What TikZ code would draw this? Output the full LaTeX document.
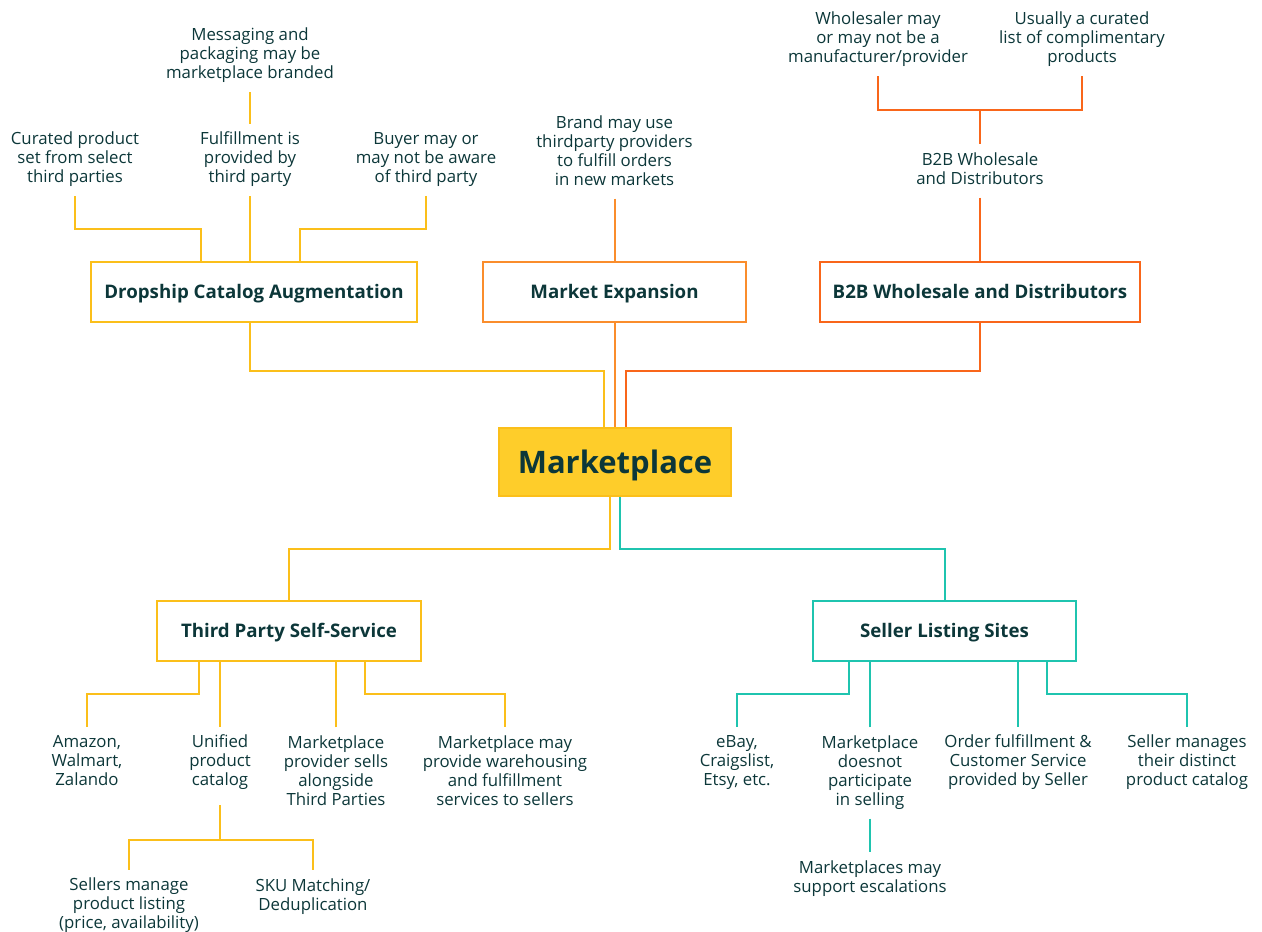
\documentclass[tikz,border=0pt]{standalone}
\usepackage{fontspec}
\setsansfont{Open Sans}
\usetikzlibrary{positioning}
\definecolor{colour_ink}{HTML}{0C3739}
\definecolor{colour_amber}{HTML}{FBBF1A}
\definecolor{colour_sun}{HTML}{FECD2A}
\definecolor{colour_orange}{HTML}{FA8D2C}
\definecolor{colour_rust}{HTML}{F9661A}
\definecolor{colour_teal}{HTML}{1FC4AF}

\begin{document}
\begin{tikzpicture}[
    x=1pt, y=-1pt,
    font=\sffamily,
    note/.style={align=center, text=colour_ink, inner sep=0pt, outer ysep=8pt,
                 font=\sffamily\fontsize{16.8}{19}\selectfont,
                 execute at begin node=\strut, execute at end node=\strut},
    box/.style={rectangle, line width=2pt, fill=white, minimum height=60pt,
                text=colour_ink, text height=13.3pt, text depth=0pt,
                font=\sffamily\bfseries\fontsize{18.7}{22}\selectfont},
    hub/.style={rectangle, draw=colour_amber, fill=colour_sun, line width=1.5pt,
                minimum width=232pt, minimum height=68pt, text=colour_ink,
                text height=22pt, text depth=0pt,
                font=\sffamily\bfseries\fontsize{31}{36}\selectfont},
    amberline/.style={line width=2pt, draw=colour_amber},
    orangeline/.style={line width=2pt, draw=colour_orange},
    rustline/.style={line width=2pt, draw=colour_rust},
    tealline/.style={line width=2pt, draw=colour_teal}
]
\useasboundingbox (0,0) rectangle (1262,932);

% Notes above the categories
\node[note] (packaging) at (250,56) {Messaging and\\packaging may be\\marketplace branded};
\node[note] (curated) at (75,160) {Curated product\\set from select\\third parties};
\node[note] (fulfil) at (250,160) {Fulfillment is\\provided by\\third party};
\node[note] (aware) at (426,160) {Buyer may or\\may not be aware\\of third party};
\node[note] (brand) at (614.5,153) {Brand may use\\thirdparty providers\\to fulfill orders\\in new markets};
\node[note] (wholesaler) at (878,40) {Wholesaler may\\or may not be a\\manufacturer/provider};
\node[note] (complement) at (1082,40) {Usually a curated\\list of complimentary\\products};
\node[note] (b2bnote) at (980,171) {B2B Wholesale\\and Distributors};

% Category boxes
\node[box, draw=colour_amber, minimum width=326pt] (dropship) at (254,292) {Dropship Catalog Augmentation};
\node[box, draw=colour_orange, minimum width=263pt] (expansion) at (614.5,292) {Market Expansion};
\node[box, draw=colour_rust, minimum width=320pt] (wholesale) at (980,292) {B2B Wholesale and Distributors};
\node[hub] (market) at (615,462) {Marketplace};
\node[box, draw=colour_amber, minimum width=264pt] (selfserve) at (289,631) {Third Party Self-Service};
\node[box, draw=colour_teal, minimum width=263pt] (listing) at (944.5,631) {Seller Listing Sites};

% Notes below the categories
\node[note] (retailers) at (87,763) {Amazon,\\Walmart,\\Zalando};
\node[note] (catalog) at (220,763) {Unified\\product\\catalog};
\node[note] (alongside) at (336,773) {Marketplace\\provider sells\\alongside\\Third Parties};
\node[note] (warehousing) at (505,773) {Marketplace may\\provide warehousing\\and fulfillment\\services to sellers};
\node[note] (pricing) at (129,906) {Sellers manage\\product listing\\(price, availability)};
\node[note] (dedup) at (313,897) {SKU Matching/\\Deduplication};
\node[note] (classifieds) at (737,763) {eBay,\\Craigslist,\\Etsy, etc.};
\node[note] (noselling) at (870,773) {Marketplace\\doesnot\\participate\\in selling};
\node[note] (sellerservice) at (1018,763) {Order fulfillment \&\\Customer Service\\provided by Seller};
\node[note] (ownlisting) at (1187,763) {Seller manages\\their distinct\\product catalog};
\node[note] (escalations) at (870,879) {Marketplaces may\\support escalations};

% Dropship branch
\draw[amberline] (packaging.south) -- (fulfil.north);
\draw[amberline] (fulfil.south) -- (fulfil.south |- dropship.north);
\draw[amberline] (curated.south) |- ([xshift=-53pt, yshift=32pt]dropship.north) -- ([xshift=-53pt]dropship.north);
\draw[amberline] (aware.south) |- ([xshift=46pt, yshift=32pt]dropship.north) -- ([xshift=46pt]dropship.north);
\draw[amberline] (dropship.south -| fulfil.south) |- ([xshift=-11pt, yshift=56pt]market.north) -- ([xshift=-11pt]market.north);

% Market expansion branch
\draw[orangeline] (brand.south) -- (expansion.north);
\draw[orangeline] (expansion.south) -- (expansion.south |- market.north);

% B2B branch
\draw[rustline] (wholesaler.south) |- ([yshift=34pt]b2bnote.north) -| (complement.south);
\draw[rustline] ([yshift=34pt]b2bnote.north) -- (b2bnote.north);
\draw[rustline] (b2bnote.south) -- (wholesale.north);
\draw[rustline] (wholesale.south) |- ([xshift=11pt, yshift=56pt]market.north) -- ([xshift=11pt]market.north);

% Down to the two lower categories
\draw[amberline] ([xshift=-5pt]market.south) |- ([yshift=51pt]selfserve.north) -- (selfserve.north);
\draw[tealline] ([xshift=5pt]market.south) |- ([yshift=51pt]listing.north) -- (listing.north);

% Third party self-service branch
\draw[amberline] ([xshift=-90pt]selfserve.south) -- ++(0,32) -| (retailers.north);
\draw[amberline] (catalog.north) -- (catalog.north |- selfserve.south);
\draw[amberline] (alongside.north) -- (alongside.north |- selfserve.south);
\draw[amberline] ([xshift=76pt]selfserve.south) -- ++(0,32) -| (warehousing.north);
\draw[amberline] (pricing.north) |- ([yshift=30pt]dedup.north) coordinate (catjoin) -- (dedup.north);
\draw[amberline] ([yshift=-6pt]catalog.south) -- (catalog.south |- catjoin);

% Seller listing branch
\draw[tealline] ([xshift=-95.5pt]listing.south) -- ++(0,32) -| (classifieds.north);
\draw[tealline] (noselling.north) -- (noselling.north |- listing.south);
\draw[tealline] (sellerservice.north) -- (sellerservice.north |- listing.south);
\draw[tealline] ([xshift=102.5pt]listing.south) -- ++(0,32) -| (ownlisting.north);
\draw[tealline] (noselling.south) -- (escalations.north);

\end{tikzpicture}
\end{document}
